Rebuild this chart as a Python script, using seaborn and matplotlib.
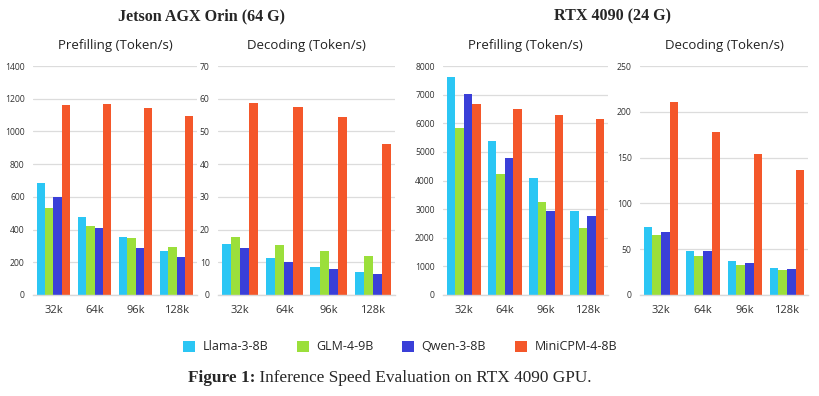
import numpy as np
import pandas as pd
import matplotlib
matplotlib.use("Agg")
import matplotlib.pyplot as plt
from matplotlib.patches import Patch
import seaborn as sns

contexts = ["32k", "64k", "96k", "128k"]
models = ["Llama-3-8B", "GLM-4-9B", "Qwen-3-8B", "MiniCPM-4-8B"]
colors = ["#2BC6F4", "#9BDF3B", "#3A3FD8", "#F4572A"]

jetson_prefill = {
    "Llama-3-8B": [685, 477, 355, 270],
    "GLM-4-9B": [530, 422, 350, 295],
    "Qwen-3-8B": [597, 408, 285, 230],
    "MiniCPM-4-8B": [1162, 1165, 1143, 1097],
}
jetson_decode = {
    "Llama-3-8B": [15.5, 11.2, 8.6, 7.0],
    "GLM-4-9B": [17.8, 15.2, 13.4, 11.8],
    "Qwen-3-8B": [14.5, 10.2, 7.8, 6.3],
    "MiniCPM-4-8B": [58.8, 57.4, 54.3, 46.3],
}
rtx_prefill = {
    "Llama-3-8B": [7600, 5380, 4080, 2920],
    "GLM-4-9B": [5820, 4210, 3250, 2330],
    "Qwen-3-8B": [7020, 4800, 2920, 2770],
    "MiniCPM-4-8B": [6670, 6500, 6290, 6150],
}
rtx_decode = {
    "Llama-3-8B": [74, 48, 37, 29],
    "GLM-4-9B": [66, 43, 33, 27],
    "Qwen-3-8B": [69, 48, 35, 28],
    "MiniCPM-4-8B": [211, 178, 154, 137],
}

panel_titles = ["Prefilling (Token/s)", "Decoding (Token/s)",
                "Prefilling (Token/s)", "Decoding (Token/s)"]
group_titles = ["Jetson AGX Orin (64 G)", "RTX 4090 (24 G)"]
ylims = [1400, 70, 8000, 250]
ysteps = [200, 10, 1000, 50]
legend_labels = models
caption_bold = "Figure 1:"
caption_rest = "Inference Speed Evaluation on RTX 4090 GPU."


def to_long(d):
    rows = []
    for m in models:
        for c, v in zip(contexts, d[m]):
            rows.append({"context": c, "model": m, "value": v})
    return pd.DataFrame(rows)


sns.set_theme(style="white")
plt.rcParams["font.family"] = ["Open Sans", "DejaVu Sans"]

W, H = 820, 396
fig = plt.figure(figsize=(W / 100, H / 100), dpi=100)

xboxes = [(33, 197), (218, 395), (443, 608), (640, 808)]
ytop, ybot = 66, 295
datasets = [jetson_prefill, jetson_decode, rtx_prefill, rtx_decode]
palette = dict(zip(models, colors))

for i, (d, (x0, x1)) in enumerate(zip(datasets, xboxes)):
    ax = fig.add_axes([x0 / W, (H - ybot) / H, (x1 - x0) / W, (ybot - ytop) / H])
    df = to_long(d)
    sns.barplot(data=df, x="context", y="value", hue="model", order=contexts,
                hue_order=models, palette=palette, width=0.82, ax=ax,
                legend=False, saturation=1, linewidth=0, errorbar=None)
    ax.set_ylim(0, ylims[i])
    ax.set_yticks(np.arange(0, ylims[i] + 1, ysteps[i]))
    ax.yaxis.grid(True, color="#DCDCDC", linewidth=0.9)
    ax.set_axisbelow(True)
    for s in ["top", "right", "left"]:
        ax.spines[s].set_visible(False)
    ax.spines["bottom"].set_color("#D9D9D9")
    ax.spines["bottom"].set_linewidth(1.0)
    ax.tick_params(axis="both", length=0)
    ax.tick_params(axis="y", labelsize=6.2, pad=6, labelcolor="#333333")
    ax.tick_params(axis="x", labelsize=8, pad=7, labelcolor="#333333")
    ax.set_xlabel("")
    ax.set_ylabel("")
    ax.set_title(panel_titles[i], fontsize=9.5, pad=12, color="#222222")

fig.text(202 / W, 1 - 16 / H, group_titles[0], ha="center", va="center",
         fontsize=11.6, fontweight="bold", family="Liberation Serif")
fig.text(613 / W, 1 - 16 / H, group_titles[1], ha="center", va="center",
         fontsize=11.6, fontweight="bold", family="Liberation Serif")

handles = [Patch(facecolor=c, edgecolor="none") for c in colors]
fig.legend(handles, legend_labels, loc="center", bbox_to_anchor=(400 / W, 1 - 347 / H),
           ncol=4, frameon=False, fontsize=9, handlelength=0.95, handleheight=0.95,
           columnspacing=2.3, handletextpad=0.6)

# caption: bold part then regular part, placed contiguously
renderer = fig.canvas.get_renderer()
cap_size = 12.4
t1 = fig.text(0, 1 - 378 / H, caption_bold, ha="left", va="center",
              fontsize=cap_size, fontweight="bold", family="Liberation Serif")
t2 = fig.text(0, 1 - 378 / H, " " + caption_rest, ha="left", va="center",
              fontsize=cap_size, family="Liberation Serif")
w1 = t1.get_window_extent(renderer).width
w2 = t2.get_window_extent(renderer).width
start = 390 - (w1 + w2) / 2
t1.set_x(start / W)
t2.set_x((start + w1) / W)

fig.savefig("out.png", dpi=100)
